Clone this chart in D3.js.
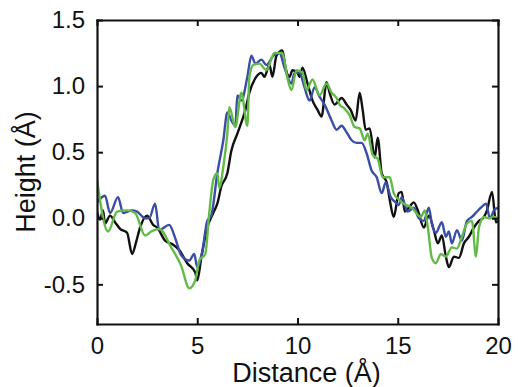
<!DOCTYPE html>
<html><head><meta charset="utf-8">
<script src="https://cdn.jsdelivr.net/npm/d3@7"></script>
<style>body{margin:0;background:#fff}svg{display:block}text{font-family:"Liberation Sans",Arial,sans-serif;fill:#111}</style>
</head><body><svg id="c" width="518" height="387"></svg>
<script>
const xTicks = [0, 5, 10, 15, 20];
const yTicks = [-0.5, 0.0, 0.5, 1.0, 1.5];
const xTickLabels = ["0", "5", "10", "15", "20"];
const yTickLabels = ["-0.5", "0.0", "0.5", "1.0", "1.5"];

const blackDist = [0,0.15,0.3,0.4,0.65,0.9,1.15,1.5,1.75,1.95,2.15,2.5,2.8,3.0,3.4,3.8,4.1,4.5,4.9,5.0,5.2,5.5,5.8,6.0,6.2,6.5,6.7,7.0,7.4,7.6,7.9,8.2,8.35,8.6,8.75,8.95,9.25,9.4,9.6,9.75,10.0,10.1,10.25,10.5,10.75,11.0,11.2,11.45,11.6,11.85,12.2,12.45,12.65,12.9,13.1,13.25,13.4,13.6,13.85,14.0,14.2,14.45,14.6,14.8,15.05,15.2,15.35,15.55,15.8,16.0,16.3,16.55,16.8,17.0,17.2,17.4,17.55,17.8,18.05,18.3,18.55,18.8,19.05,19.3,19.45,19.7,19.9,20];
const blackHeight = [0.05,-0.01,0.06,-0.04,0.02,-0.03,-0.08,-0.11,-0.27,-0.18,-0.07,0.02,-0.05,-0.07,-0.17,-0.2,-0.24,-0.34,-0.41,-0.47,-0.3,-0.07,0.04,0.11,0.24,0.34,0.51,0.64,0.82,0.95,1.06,1.1,1.07,1.16,1.07,1.23,1.27,1.14,1.07,1.12,1.1,1.07,1.14,1.02,0.89,0.82,0.77,1.03,0.95,0.86,0.91,0.86,0.82,0.74,0.95,0.82,0.67,0.68,0.46,0.61,0.34,0.27,0.14,0.01,0.19,0.2,0.05,0.08,0.12,0.06,-0.07,0.02,-0.09,-0.19,-0.13,-0.29,-0.37,-0.29,-0.3,-0.19,-0.14,-0.07,-0.02,0.01,0.06,0.2,-0.03,-0.02];

const blueDist = [0,0.4,0.65,1.05,1.3,1.75,2.0,2.4,2.6,2.9,3.1,3.6,3.9,4.2,4.6,4.85,5.0,5.25,5.5,5.7,6.0,6.3,6.5,6.7,6.9,7.0,7.2,7.5,7.7,7.9,8.2,8.45,8.8,9.1,9.35,9.7,9.85,10.1,10.35,10.6,10.85,11.1,11.35,11.7,11.95,12.2,12.45,12.7,12.95,13.2,13.45,13.7,13.95,14.2,14.4,14.65,14.9,15.05,15.2,15.5,15.8,16.05,16.3,16.55,16.7,16.9,17.2,17.4,17.55,17.7,17.95,18.2,18.45,18.7,18.95,19.15,19.4,19.6,19.8,20];
const blueHeight = [0.12,0.17,0.04,0.16,0.04,0.06,0.05,0.0,0.0,0.11,-0.09,-0.05,-0.15,-0.28,-0.32,-0.27,-0.37,-0.25,-0.02,0.02,0.34,0.59,0.8,0.74,0.7,0.93,0.89,1.07,1.23,1.17,1.2,1.16,1.23,1.25,1.14,1.02,1.1,1.1,0.99,0.89,0.99,0.92,0.86,0.74,0.67,0.7,0.65,0.59,0.57,0.57,0.49,0.36,0.31,0.19,0.27,0.16,0.12,0.1,0.16,0.05,0.08,0.0,-0.02,0.08,-0.04,-0.11,-0.03,-0.14,-0.1,-0.19,-0.09,-0.17,-0.02,0.01,0.05,0.08,0.11,0.0,0.06,0.08];

const greenDist = [0,0.55,1.0,1.5,1.9,2.4,2.7,3.1,3.7,4.2,4.6,4.9,5.1,5.4,5.6,5.8,6.0,6.1,6.3,6.5,6.6,6.9,7.2,7.5,7.6,7.8,8.1,8.45,8.85,9.25,9.5,9.7,9.95,10.25,10.45,10.75,11.1,11.45,11.7,11.95,12.1,12.35,12.6,12.85,13.1,13.35,13.5,13.75,14.0,14.25,14.6,14.8,15.0,15.3,15.7,16.15,16.35,16.5,16.7,16.9,17.15,17.4,17.7,17.95,18.2,18.45,18.7,18.9,19.05,19.3,19.55,19.8,20];
const greenHeight = [0.29,-0.1,0.05,0.06,0.04,-0.13,-0.1,-0.08,-0.22,-0.36,-0.53,-0.47,-0.32,-0.27,0.04,0.29,0.34,0.23,0.39,0.64,0.84,0.69,0.95,0.7,1.07,1.16,1.17,1.12,1.25,1.25,1.06,0.97,1.12,1.1,0.97,1.05,0.93,1.02,0.95,0.91,0.86,0.83,0.78,0.69,0.68,0.59,0.64,0.48,0.45,0.31,0.31,0.19,0.15,0.11,0.08,0.01,0.06,-0.07,-0.3,-0.34,-0.27,-0.29,-0.22,-0.23,-0.14,-0.04,-0.02,-0.29,-0.07,0.01,0.0,0.01,0.0];

const W = 518, H = 387;
const m = {left: 97, top: 20, right: 20, bottom: 63};
const svg = d3.select("#c");
const x = d3.scaleLinear().domain([0, 20]).range([m.left, W - m.right]);
const y = d3.scaleLinear().domain([-0.8, 1.5]).range([H - m.bottom, m.top]);

svg.append("clipPath").attr("id", "clp").append("rect")
  .attr("x", x(0)).attr("y", y(1.5)).attr("width", x(20) - x(0)).attr("height", y(-0.8) - y(1.5));

const series = [
  {d: blackDist, h: blackHeight, color: "#111111"},
  {d: blueDist, h: blueHeight, color: "#3a4ea6"},
  {d: greenDist, h: greenHeight, color: "#63bb47"}
];
const line = d3.line().x(p => x(p[0])).y(p => y(p[1])).curve(d3.curveMonotoneX);
series.forEach(s => {
  svg.append("path").datum(s.d.map((v, i) => [v, s.h[i]]))
    .attr("d", line).attr("fill", "none").attr("stroke", s.color)
    .attr("stroke-width", 2.4).attr("stroke-linejoin", "round")
    .attr("clip-path", "url(#clp)");
});

const fmtX = d => xTickLabels[xTicks.indexOf(d)];
const fmtY = d => yTickLabels[yTicks.indexOf(d)];
const tk = 6;
const gB = svg.append("g").attr("transform", `translate(0,${y(-0.8)})`)
  .call(d3.axisBottom(x).tickValues(xTicks).tickFormat(fmtX).tickSizeInner(-tk).tickSizeOuter(0).tickPadding(13));
const gT = svg.append("g").attr("transform", `translate(0,${y(1.5)})`)
  .call(d3.axisTop(x).tickValues(xTicks).tickFormat("").tickSizeInner(-tk).tickSizeOuter(0));
const gL = svg.append("g").attr("transform", `translate(${x(0)},0)`)
  .call(d3.axisLeft(y).tickValues(yTicks).tickFormat(fmtY).tickSizeInner(-tk).tickSizeOuter(0).tickPadding(12));
const gR = svg.append("g").attr("transform", `translate(${x(20)},0)`)
  .call(d3.axisRight(y).tickValues(yTicks).tickFormat("").tickSizeInner(-tk).tickSizeOuter(0));
[gB, gT, gL, gR].forEach(g => {
  g.select(".domain").attr("stroke", "#111").attr("stroke-width", 2.2).attr("stroke-linecap", "square");
  g.selectAll(".tick line").attr("stroke", "#111").attr("stroke-width", 2);
  g.selectAll(".tick text").style("font-family", '"Liberation Sans",Arial,sans-serif').style("font-size", "24px").attr("fill", "#111");
});

svg.append("text").attr("x", (x(0) + x(20)) / 2 + 9).attr("y", 382)
  .attr("text-anchor", "middle").style("font-size", "27px").text("Distance (Å)");
svg.append("text").attr("transform", `translate(35,${(y(-0.8) + y(1.5)) / 2}) rotate(-90)`)
  .attr("text-anchor", "middle").style("font-size", "27px").text("Height (Å)");
</script></body></html>
